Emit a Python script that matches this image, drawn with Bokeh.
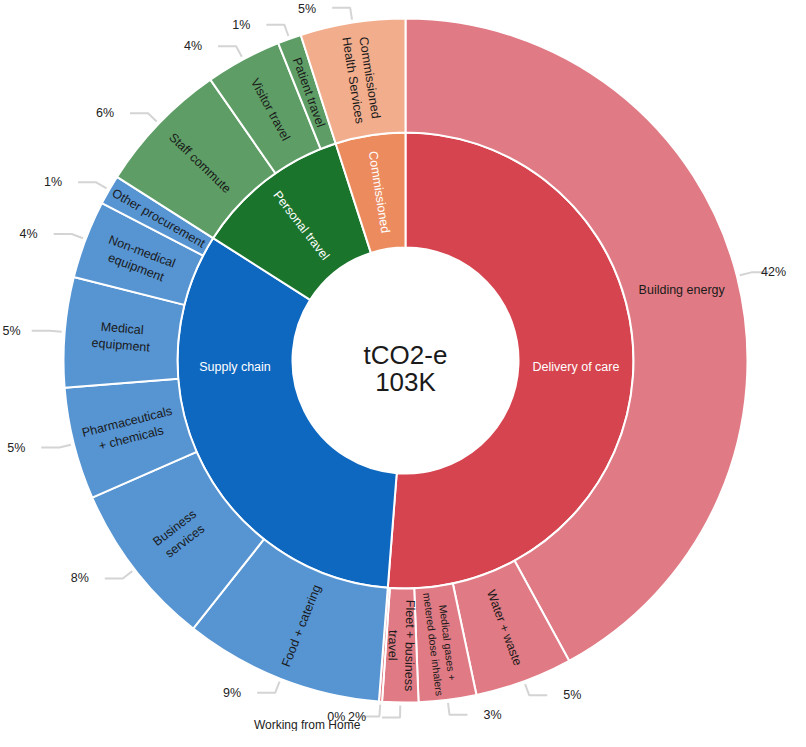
import math
import numpy as np
from bokeh.plotting import figure
from bokeh.models import ColumnDataSource, Range1d
from bokeh.embed import file_html
from bokeh.resources import INLINE
from bokeh.core.properties import value

# ---------------- data ----------------
categories = ["Delivery of care", "Supply chain", "Personal travel", "Commissioned"]
category_colors = ["#d6444f", "#0f68c0", "#1b742c", "#ec8b5e"]
category_light = ["#e07a84", "#5694d2", "#5e9e66", "#f2ad8d"]

sub_names = ["Building energy", "Water + waste", "Medical gases + metered dose inhalers",
             "Fleet + business travel", "Working from Home", "Food + catering",
             "Business services", "Pharmaceuticals + chemicals", "Medical equipment",
             "Non-medical equipment", "Other procurement", "Staff commute",
             "Visitor travel", "Patient travel", "Commissioned Health Services"]
sub_labels = ["Building energy", "Water + waste", "Medical gases +\nmetered dose inhalers",
              "Fleet + business\ntravel", "Working from Home", "Food + catering",
              "Business\nservices", "Pharmaceuticals\n+ chemicals", "Medical\nequipment",
              "Non-medical\nequipment", "Other procurement", "Staff commute",
              "Visitor travel", "Patient travel", "Commissioned\nHealth Services"]
sub_parent = (["Delivery of care"] * 5 + ["Supply chain"] * 6 +
              ["Personal travel"] * 3 + ["Commissioned"])
sub_values = [43300, 4750, 2800, 1750, 150, 9700, 8000, 5450, 5350, 3800, 1450,
              6500, 3700, 1150, 5100]
center_title = "tCO2-e"

# ---------------- geometry / style ----------------
W, H = 790, 731
CX_PX, CY_PX = 405, 360          # centre of the rings inside the figure (px)
R_HOLE, R_MID, R_OUT = 113, 228, 342
FONT = "Liberation Sans"
LEADER = "#d4d4d4"

total = float(sum(sub_values))
cat_values = [sum(v for v, par in zip(sub_values, sub_parent) if par == c) for c in categories]

sub_edges = np.concatenate([[0], np.cumsum(sub_values)]) / total * 360.0
cat_edges = np.concatenate([[0], np.cumsum(cat_values)]) / total * 360.0


def math_angle(compass_deg):
    return math.pi / 2 - math.radians(compass_deg)


def pol(r, compass_deg):
    t = math.radians(compass_deg)
    return r * math.sin(t), r * math.cos(t)


p = figure(width=W, height=H,
           x_range=Range1d(-CX_PX, W - CX_PX), y_range=Range1d(CY_PX - H, CY_PX),
           x_axis_type=None, y_axis_type=None, toolbar_location=None,
           output_backend="svg", min_border=0, outline_line_color=None,
           background_fill_color="white", border_fill_color="white")

# ---------------- wedges ----------------
inner_src = ColumnDataSource(dict(
    start=[math_angle(a) for a in cat_edges[:-1]],
    end=[math_angle(a) for a in cat_edges[1:]],
    color=category_colors))
p.annular_wedge(x=0, y=0, inner_radius=R_HOLE, outer_radius=R_MID,
                start_angle="start", end_angle="end", direction="clock",
                fill_color="color", line_color="white", line_width=2, source=inner_src)

outer_src = ColumnDataSource(dict(
    start=[math_angle(a) for a in sub_edges[:-1]],
    end=[math_angle(a) for a in sub_edges[1:]],
    color=[category_light[categories.index(par)] for par in sub_parent]))
p.annular_wedge(x=0, y=0, inner_radius=R_MID, outer_radius=R_OUT,
                start_angle="start", end_angle="end", direction="clock",
                fill_color="color", line_color="white", line_width=2, source=outer_src)

# ---------------- inner labels ----------------
ri = (R_HOLE + R_MID) / 2
il = dict(x=[], y=[], text=[], angle=[])
for c, s, e in zip(categories, cat_edges[:-1], cat_edges[1:]):
    span = e - s
    if span > 90:
        th = 90 if s <= 90 <= e else (270 if s <= 270 <= e else (s + e) / 2)
        x, y = pol(ri, th)
        y -= 6
        ang = 0.0
    else:
        th = (s + e) / 2
        x, y = pol(ri, th)
        ang = math.radians(90 - th if th <= 185 else 270 - th)
    il["x"].append(x); il["y"].append(y); il["text"].append(c); il["angle"].append(ang)
p.text(x="x", y="y", text="text", angle="angle", source=ColumnDataSource(il),
       text_font=value(FONT), text_font_size="12.5px", text_color="white",
       text_align="center", text_baseline="middle")

# ---------------- outer labels + percentages ----------------
ro = (R_MID + R_OUT) / 2
ol = dict(x=[], y=[], text=[], angle=[], fs=[])
pl_left = dict(x=[], y=[], text=[])
pl_right = dict(x=[], y=[], text=[])
name_out = dict(x=[], y=[], text=[])
lx, ly = [], []
y_top, y_bot = CY_PX - 8, CY_PX - H + 7
x_left, x_right = -CX_PX + 3, W - CX_PX - 4
for lab, v, s, e in zip(sub_labels, sub_values, sub_edges[:-1], sub_edges[1:]):
    span = e - s
    th = (s + e) / 2
    arc_px = math.radians(span) * ro
    if arc_px >= 8:
        x, y = pol(ro, th)
        if span > 90:
            ang = 0.0
        else:
            ang = math.radians(90 - th if th <= 185 else 270 - th)
        maxlen = max(len(t) for t in lab.split("\n"))
        fs = "12.5px" if (span > 90 or maxlen * 6.3 <= 112) else "10.5px"
        ol["x"].append(x); ol["y"].append(y); ol["text"].append(lab)
        ol["angle"].append(ang); ol["fs"].append(fs)
    # leader
    x1, y1 = pol(R_OUT + 3, th)
    x2, y2 = pol(R_OUT + 15, th)
    y1 = min(y1, y_top + 6); y2 = min(y2, y_top + 2)
    side = 1 if th < 180 else -1
    x3 = x2 + side * 18
    lx.append([x1, x2, x3]); ly.append([y1, y2, y2])
    pct = f"{round(v / total * 100)}%"
    est_w = len(pct) * 8.5
    ty = min(y2, y_top)
    if side > 0:
        tx = min(x3 + 16, x_right - est_w)
        pl_left["x"].append(tx); pl_left["y"].append(ty); pl_left["text"].append(pct)
    else:
        tx = max(x3 - 16, x_left + est_w)
        pl_right["x"].append(tx); pl_right["y"].append(ty); pl_right["text"].append(pct)
        if arc_px < 8:
            name_out["x"].append(tx + 15)
            name_out["y"].append(max(y2 - 24, y_bot))
            name_out["text"].append(lab)

p.multi_line(xs=lx, ys=ly, line_color=LEADER, line_width=2)

p.text(x="x", y="y", text="text", angle="angle", text_font_size="fs",
       source=ColumnDataSource(ol), text_font=value(FONT), text_color="#1a1a1a",
       text_align="center", text_baseline="middle")
p.text(x="x", y="y", text="text", source=ColumnDataSource(pl_left),
       text_font=value(FONT), text_font_size="12.5px", text_color="#222222",
       text_align="left", text_baseline="middle")
p.text(x="x", y="y", text="text", source=ColumnDataSource(pl_right),
       text_font=value(FONT), text_font_size="12.5px", text_color="#222222",
       text_align="right", text_baseline="middle")
p.text(x="x", y="y", text="text", source=ColumnDataSource(name_out),
       text_font=value(FONT), text_font_size="12px", text_color="#222222",
       text_align="right", text_baseline="middle")

# ---------------- centre ----------------
center_src = ColumnDataSource(dict(x=[0, 0], y=[6, -21],
                                   text=[center_title, f"{round(total / 1000)}K"]))
p.text(x="x", y="y", text="text", source=center_src, text_font=value(FONT),
       text_font_size="26px", text_color="#1a1a1a", text_align="center",
       text_baseline="middle")

open("out.html", "w").write(file_html(p, INLINE))
